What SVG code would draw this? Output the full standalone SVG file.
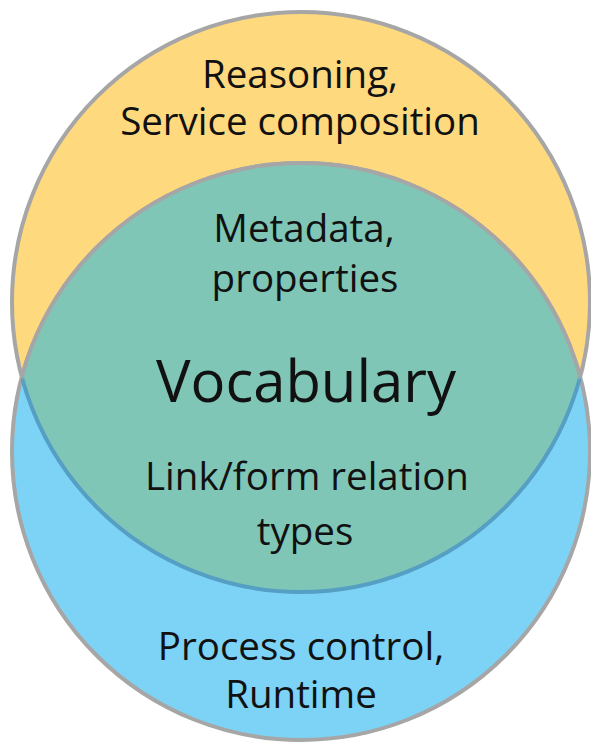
<svg xmlns="http://www.w3.org/2000/svg" width="591" height="745" viewBox="0 0 591 745">
  <style>
    .lbl { font-family: "Open Sans", "Liberation Sans", sans-serif; fill: #111; text-anchor: middle; }
    .sm { font-size: 38.5px; }
    .big { font-size: 58px; }
  </style>
  <defs>
    <ellipse id="top-shape" cx="301" cy="302" rx="289" ry="290"/>
    <ellipse id="bottom-shape" cx="301" cy="451.5" rx="289" ry="288.5"/>
    <clipPath id="inside-bottom">
      <use href="#bottom-shape"/>
    </clipPath>
    <clipPath id="inside-top">
      <use href="#top-shape"/>
    </clipPath>
  </defs>
  <rect width="591" height="745" fill="#ffffff"/>

  <g id="upper-circle">
    <use href="#top-shape" fill="#FFD97D" stroke="#A6A6A6" stroke-width="4"/>
  </g>
  <g id="lower-circle">
    <use href="#bottom-shape" fill="#7DD3F6" stroke="#A6A6A6" stroke-width="4"/>
  </g>
  <!-- shared region: upper circle seen through the lower one -->
  <g id="overlap">
    <g clip-path="url(#inside-bottom)">
      <use href="#top-shape" fill="#7FC6B6" stroke="#559FC4" stroke-width="4"/>
    </g>
    <use href="#bottom-shape" fill="none" stroke="#A6A6A6" stroke-width="4" clip-path="url(#inside-top)"/>
  </g>

  <g id="labels">
    <text class="lbl sm" x="300" y="88">Reasoning,</text>
    <text class="lbl sm" x="300" y="135">Service composition</text>
    <text class="lbl sm" x="304" y="242">Metadata,</text>
    <text class="lbl sm" x="305" y="292">properties</text>
    <text class="lbl big" x="306" y="402">Vocabulary</text>
    <text class="lbl sm" x="307" y="490">Link/form relation</text>
    <text class="lbl sm" x="305" y="545">types</text>
    <text class="lbl sm" x="301" y="660">Process control,</text>
    <text class="lbl sm" x="301" y="708">Runtime</text>
  </g>
</svg>
